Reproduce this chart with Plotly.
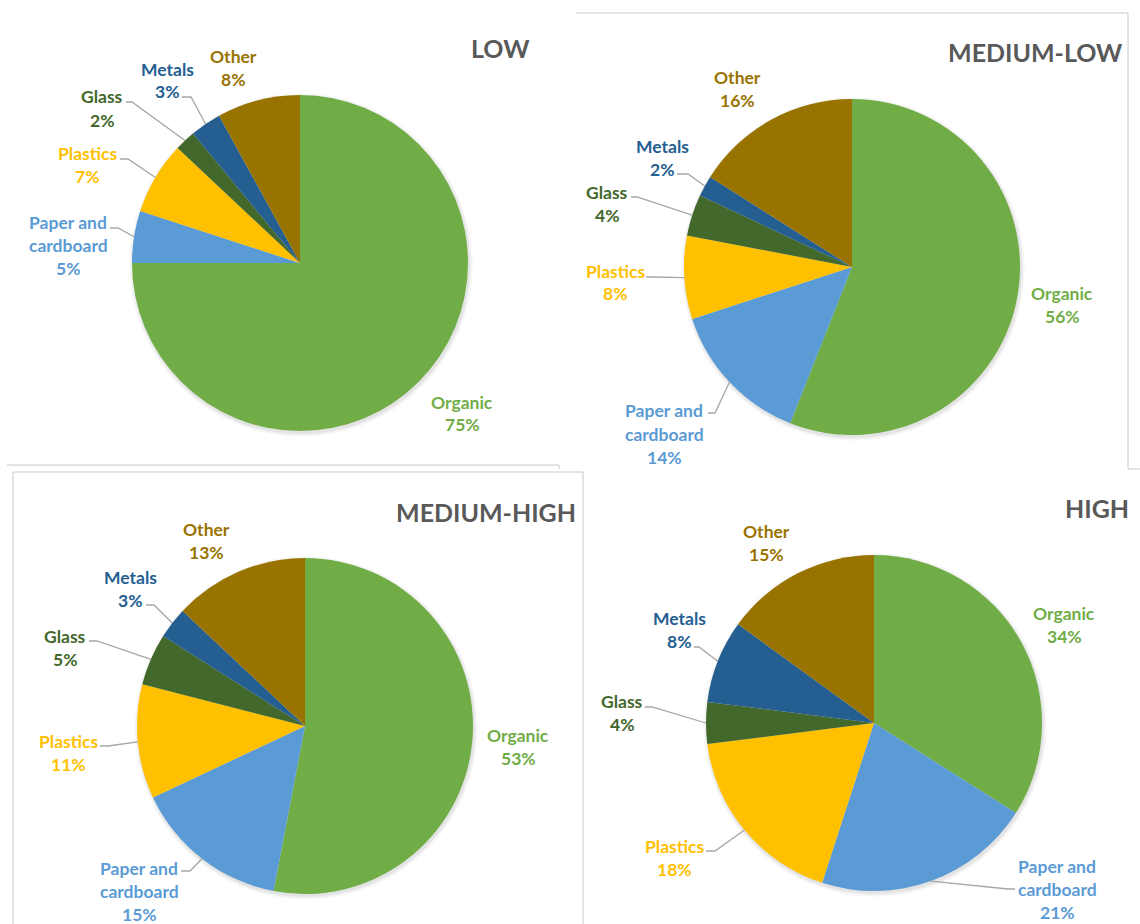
import math
import plotly.graph_objects as go

# ---- data -------------------------------------------------------------
categories = ["Organic", "Paper and cardboard", "Plastics", "Glass", "Metals", "Other"]
low = [75, 5, 7, 2, 3, 8]
medium_low = [56, 14, 8, 4, 2, 16]
medium_high = [53, 15, 11, 5, 3, 13]
high = [34, 21, 18, 4, 8, 15]
panel_titles = ["LOW", "MEDIUM-LOW", "MEDIUM-HIGH", "HIGH"]

# ---- styling ----------------------------------------------------------
W, H = 1140, 924
colors = ["#70AD47", "#5B9BD5", "#FFC000", "#43682B", "#255E91", "#997300"]
label_lines = {"Paper and cardboard": ["Paper and", "cardboard"]}
FONT = "Lato, 'Open Sans', sans-serif"
LINE_STEP = 23
LEADER = "#A6A6A6"

# pixel layout of each panel: pie centre/radius, title, label spots, leader starts
panels = [
    dict(values=low, c=(300, 263), r=168, title=(500, 48),
         labels=[(462, 402), (68, 222), (87, 153), (102, 97), (168, 69), (233, 57)],
         leaders=[None, ((110, 228), (118, 228)), ((120, 159), (128, 159)),
                  ((126, 102), (132, 102)), ((182, 97), (191, 97)), None]),
    dict(values=medium_low, c=(852, 267), r=168, title=(1035, 52),
         labels=[(1062, 293), (664, 411), (615, 271), (607, 192), (662, 147), (737, 77)],
         leaders=[None, ((708, 413), (715, 413)), ((646, 277), (654, 277)),
                  ((631, 197), (637, 197)), ((677, 174), (688, 174)), None]),
    dict(values=medium_high, c=(305, 726), r=168, title=(486, 512),
         labels=[(518, 735), (139, 868), (68, 741), (65, 636), (130, 577), (206, 529)],
         leaders=[None, ((181, 871), (190, 871)), ((100, 746), (108, 746)),
                  ((89, 641), (97, 641)), ((146, 605), (154, 605)), None]),
    dict(values=high, c=(874, 723), r=168, title=(1097, 508),
         labels=[(1064, 613), (1057, 866), (674, 846), (622, 701), (679, 618), (766, 531)],
         leaders=[None, ((1015, 889), (1008, 889)), ((706, 851), (715, 851)),
                  ((645, 707), (652, 707)), ((694, 647), (699, 647)), None]),
]


def fx(x):
    return x / W


def fy(y):
    return 1 - y / H


fig = go.Figure()
shapes = []
annotations = []

# panel frames
frame = dict(type="line", xref="paper", yref="paper", line=dict(color="#C8C8C8", width=1))
for (x0, y0, x1, y1) in [
    (7, 465, 559, 465), (559, 465, 559, 469),
    (576, 13, 1128, 13), (1128, 13, 1128, 469), (1128, 469, 1140, 469),
    (13, 472, 583, 472), (13, 472, 13, 924), (583, 472, 583, 924),
]:
    shapes.append(dict(frame, x0=fx(x0), y0=fy(y0), x1=fx(x1), y1=fy(y1)))

for idx, p in enumerate(panels):
    cx, cy = p["c"]
    r = p["r"]
    vals = p["values"]
    total = sum(vals)

    # soft drop shadow under the pie
    for grow, alpha in [(4, 0.025), (2.5, 0.035), (1, 0.05)]:
        shapes.append(dict(type="circle", xref="paper", yref="paper", layer="below",
                           x0=fx(cx - r - grow + 1), x1=fx(cx + r + grow + 1),
                           y0=fy(cy + r + grow + 2), y1=fy(cy - r - grow + 2),
                           fillcolor=f"rgba(0,0,0,{alpha})", line=dict(width=0)))

    fig.add_trace(go.Pie(
        labels=categories, values=vals, sort=False, direction="clockwise", rotation=0,
        marker=dict(colors=colors, line=dict(width=0)),
        textinfo="none", hoverinfo="skip", showlegend=False,
        domain=dict(x=[fx(cx - r), fx(cx + r)], y=[fy(cy + r), fy(cy - r)]),
    ))

    # panel title
    tx, ty = p["title"]
    annotations.append(dict(text=f"<b>{panel_titles[idx]}</b>", x=fx(tx), y=fy(ty),
                            xref="paper", yref="paper", showarrow=False,
                            xanchor="center", yanchor="middle",
                            font=dict(family=FONT, size=25, color="#595959")))

    cum = 0
    for i, (cat, v) in enumerate(zip(categories, vals)):
        mid = (cum + v / 2) / total * 2 * math.pi
        cum += v
        lines = label_lines.get(cat, [cat]) + [f"{v}%"]
        lx, ly = p["labels"][i]
        for k, line in enumerate(lines):
            annotations.append(dict(text=f"<b>{line}</b>", x=fx(lx), y=fy(ly + k * LINE_STEP),
                                    xref="paper", yref="paper", showarrow=False,
                                    xanchor="center", yanchor="middle",
                                    font=dict(family=FONT, size=17.5, color=colors[i])))
        ld = p["leaders"][i]
        if ld:
            (sx, sy), (ex, ey) = ld
            px_ = cx + r * math.sin(mid)
            py_ = cy - r * math.cos(mid)
            path = (f"M {fx(sx)} {fy(sy)} L {fx(ex)} {fy(ey)} L {fx(px_)} {fy(py_)}")
            shapes.append(dict(type="path", xref="paper", yref="paper", path=path,
                               line=dict(color=LEADER, width=1.3)))

fig.update_layout(
    width=W, height=H,
    margin=dict(l=0, r=0, t=0, b=0),
    paper_bgcolor="white", plot_bgcolor="white",
    shapes=shapes, annotations=annotations,
)

fig.write_html("out.html")
